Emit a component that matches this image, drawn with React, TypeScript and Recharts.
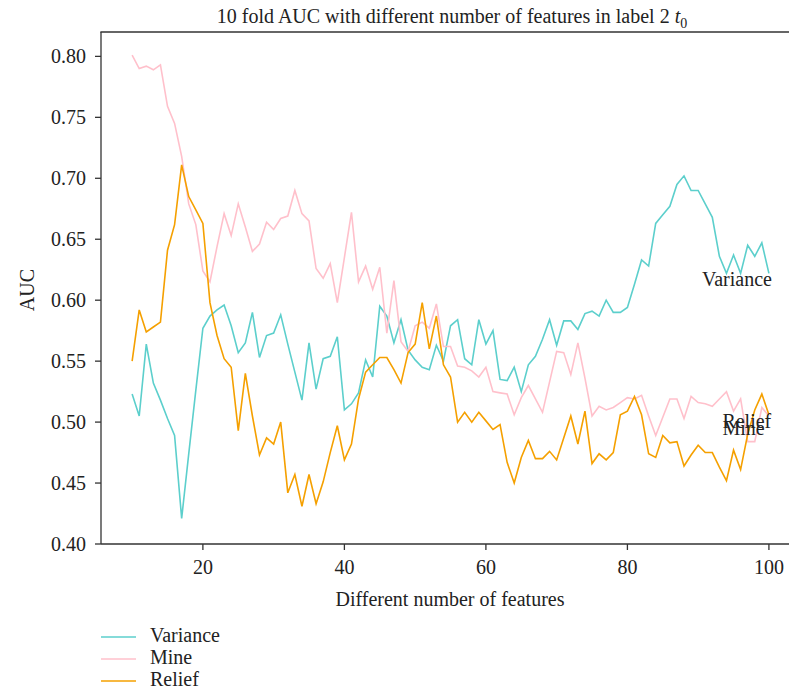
import React from 'react';
import { LineChart, Line, XAxis, YAxis } from 'recharts';

// number of selected features on the x axis
const FEATURES = Array.from({ length: 91 }, (_, i) => i + 10);

const VARIANCE = [
  0.523, 0.505, 0.564, 0.532, 0.518, 0.503, 0.489, 0.421, 0.474, 0.526,
  0.577, 0.587, 0.592, 0.596, 0.579, 0.557, 0.565, 0.590, 0.553, 0.571,
  0.573, 0.588, 0.564, 0.541, 0.518, 0.565, 0.527, 0.552, 0.554, 0.570,
  0.510, 0.515, 0.524, 0.551, 0.537, 0.595, 0.587, 0.565, 0.584, 0.559,
  0.551, 0.545, 0.543, 0.563, 0.550, 0.579, 0.584, 0.552, 0.547, 0.584,
  0.564, 0.575, 0.535, 0.534, 0.545, 0.525, 0.547, 0.554, 0.568, 0.584,
  0.563, 0.583, 0.583, 0.576, 0.589, 0.591, 0.587, 0.600, 0.590, 0.590,
  0.594, 0.613, 0.633, 0.628, 0.663, 0.670, 0.677, 0.695, 0.702, 0.690,
  0.690, 0.679, 0.668, 0.636, 0.622, 0.637, 0.622, 0.645, 0.636, 0.647,
  0.622,
];

const MINE = [
  0.801, 0.790, 0.792, 0.789, 0.793, 0.759, 0.745, 0.718, 0.679, 0.662,
  0.624, 0.615, 0.644, 0.671, 0.653, 0.679, 0.660, 0.640, 0.646, 0.664,
  0.658, 0.667, 0.669, 0.690, 0.671, 0.665, 0.626, 0.618, 0.630, 0.598,
  0.635, 0.672, 0.615, 0.628, 0.609, 0.627, 0.573, 0.616, 0.566, 0.558,
  0.579, 0.582, 0.577, 0.597, 0.562, 0.562, 0.546, 0.545, 0.542, 0.537,
  0.545, 0.525, 0.524, 0.523, 0.506, 0.520, 0.530, 0.519, 0.508, 0.533,
  0.558, 0.557, 0.539, 0.565, 0.536, 0.505, 0.513, 0.510, 0.512, 0.516,
  0.520, 0.519, 0.522, 0.505, 0.489, 0.504, 0.519, 0.519, 0.503, 0.521,
  0.516, 0.515, 0.513, 0.519, 0.525, 0.509, 0.519, 0.484, 0.484, 0.512,
  0.505,
];

const RELIEF = [
  0.550, 0.592, 0.574, 0.578, 0.582, 0.641, 0.662, 0.711, 0.685, 0.674,
  0.663, 0.598, 0.571, 0.552, 0.545, 0.493, 0.540, 0.505, 0.473, 0.487,
  0.482, 0.500, 0.442, 0.457, 0.431, 0.457, 0.433, 0.451, 0.475, 0.497,
  0.469, 0.482, 0.519, 0.541, 0.547, 0.553, 0.553, 0.543, 0.532, 0.557,
  0.564, 0.598, 0.560, 0.587, 0.547, 0.537, 0.500, 0.508, 0.500, 0.508,
  0.501, 0.494, 0.498, 0.467, 0.450, 0.471, 0.485, 0.470, 0.470, 0.476,
  0.469, 0.487, 0.505, 0.482, 0.509, 0.466, 0.474, 0.469, 0.475, 0.506,
  0.509, 0.521, 0.506, 0.474, 0.471, 0.489, 0.483, 0.484, 0.464, 0.473,
  0.481, 0.475, 0.475, 0.463, 0.452, 0.477, 0.461, 0.490, 0.510, 0.523,
  0.506,
];

const X_TICKS = [20, 40, 60, 80, 100];
const Y_TICKS = [0.4, 0.45, 0.5, 0.55, 0.6, 0.65, 0.7, 0.75, 0.8];

const SERIES_NAMES = ['Variance', 'Mine', 'Relief'];

const FONT = "'Liberation Serif', 'Times New Roman', serif";
const AXIS = '#333';
const COLORS: Record<string, string> = {
  Variance: '#5ccfcc',
  Mine: '#ffc0cb',
  Relief: '#f5a000',
};

const rows = FEATURES.map((n, i) => ({
  n,
  Variance: VARIANCE[i],
  Mine: MINE[i],
  Relief: RELIEF[i],
}));

// direct label at the end of each line
const endLabel =
  (text: string, anchor: 'start' | 'end', dx: number, dy: number) =>
  (props: any) => {
    const { x, y, index } = props;
    if (index !== rows.length - 1) return <g />;
    return (
      <text
        x={x + dx}
        y={y + dy}
        textAnchor={anchor}
        fontFamily={FONT}
        fontSize={20}
        fill="#222"
      >
        {text}
      </text>
    );
  };

const LABELS: Record<string, [('start' | 'end'), number, number]> = {
  Variance: ['end', 3, 12.5],
  Mine: ['start', -46.5, 19],
  Relief: ['start', -46.5, 13.5],
};

const App: React.FC = () => {
  return (
    <div style={{ position: 'absolute', left: 0, top: 0, width: 789, height: 693, overflow: 'hidden', background: '#fff' }}>
      <LineChart
        width={820}
        height={693}
        data={rows}
        margin={{ top: 32, right: 15, bottom: 0, left: 0 }}
      >
        <XAxis
          dataKey="n"
          type="number"
          domain={[5.6, 105.1]}
          ticks={X_TICKS}
          allowDataOverflow
          height={149}
          stroke={AXIS}
          strokeWidth={1.3}
          tickSize={6}
          tickMargin={10}
          tick={{ fill: '#222', fontSize: 20, fontFamily: FONT }}
          label={() => (
            <text x={450} y={606} textAnchor="middle" fontFamily={FONT} fontSize={20} fill="#222">
              Different number of features
            </text>
          )}
        />
        <YAxis
          type="number"
          domain={[0.4, 0.82]}
          ticks={Y_TICKS}
          allowDataOverflow
          width={101}
          stroke={AXIS}
          strokeWidth={1.3}
          tickSize={6}
          tickMargin={9}
          tickFormatter={(v: number) => v.toFixed(2)}
          tick={{ fill: '#222', fontSize: 20, fontFamily: FONT }}
          label={() => (
            <text
              x={34}
              y={290}
              textAnchor="middle"
              transform="rotate(-90, 34, 290)"
              fontFamily={FONT}
              fontSize={20}
              fill="#222"
            >
              AUC
            </text>
          )}
        />
        {SERIES_NAMES.map((name) => {
          const [anchor, dx, dy] = LABELS[name];
          return (
            <Line
              key={name}
              type="linear"
              dataKey={name}
              stroke={COLORS[name]}
              strokeWidth={1.6}
              dot={false}
              isAnimationActive={false}
              label={endLabel(name, anchor, dx, dy)}
            />
          );
        })}
      </LineChart>

      {/* title, top edge of the frame and legend */}
      <svg
        width={789}
        height={693}
        style={{ position: 'absolute', left: 0, top: 0, pointerEvents: 'none' }}
      >
        <text x={452} y={23} textAnchor="middle" fontFamily={FONT} fontSize={20} fill="#222">
          10 fold AUC with different number of features in label 2{' '}
          <tspan fontStyle="italic">t</tspan>
          <tspan fontSize={14} dy={5}>0</tspan>
        </text>
        <line x1={100.4} x2={789} y1={32} y2={32} stroke={AXIS} strokeWidth={1.3} />
        {SERIES_NAMES.map((name, i) => (
          <g key={name}>
            <line x1={101} x2={136} y1={637 + i * 22} y2={637 + i * 22} stroke={COLORS[name]} strokeWidth={1.6} />
            <text x={150} y={642 + i * 22} fontFamily={FONT} fontSize={20} fill="#222">
              {name}
            </text>
          </g>
        ))}
      </svg>
    </div>
  );
};

export default App;
